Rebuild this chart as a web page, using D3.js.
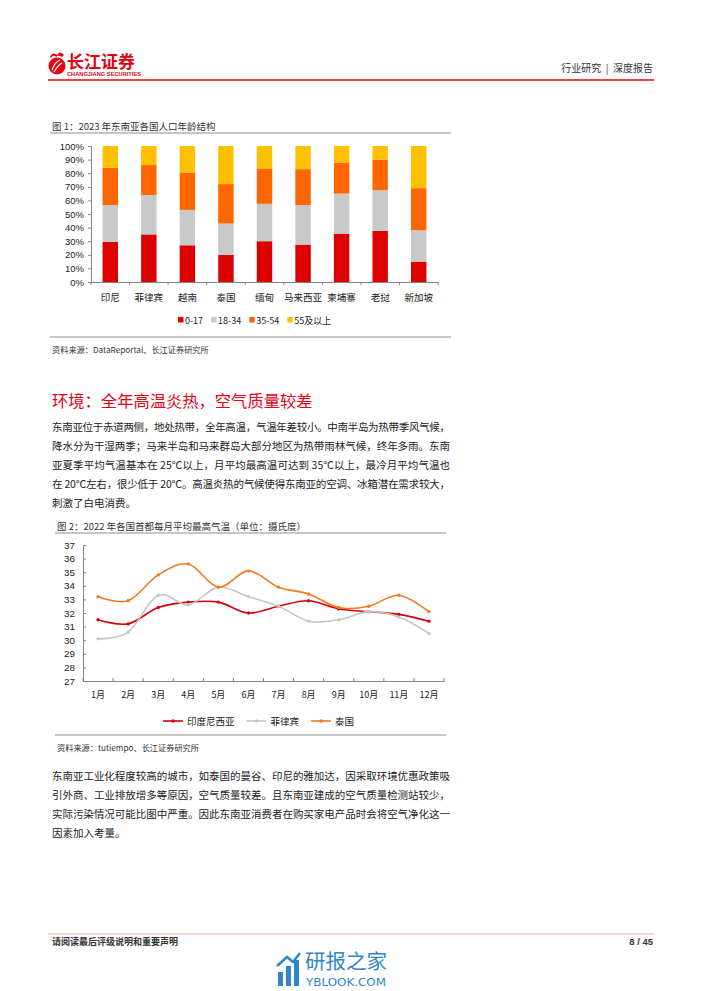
<!DOCTYPE html>
<html>
<head>
<meta charset="utf-8">
<script src="https://cdn.jsdelivr.net/npm/d3@7"></script>
<style>
body { margin: 0; background: #fff; }
svg { display: block; }
</style>
</head>
<body>
<script>
// chart 1: population age structure 2023 (%)
var countries = ["印尼", "菲律宾", "越南", "泰国", "缅甸", "马来西亚", "柬埔寨", "老挝", "新加坡"];
var ageGroups = ["0-17", "18-34", "35-54", "55及以上"];
var age0to17 = [29.5, 35, 27, 20, 30, 27.5, 35.5, 37.5, 15];
var age18to34 = [27, 29, 26, 23, 27.5, 29, 29.5, 30, 23];
var age35to54 = [27.5, 22, 27.5, 29, 26, 26.5, 22.5, 22.5, 31];
var age55plus = [16, 14, 19.5, 28, 16.5, 17, 12.5, 10, 31];
var pctTicks = [0, 10, 20, 30, 40, 50, 60, 70, 80, 90, 100];

// chart 2: average monthly max temperature of capitals 2022
var months = ["1月", "2月", "3月", "4月", "5月", "6月", "7月", "8月", "9月", "10月", "11月", "12月"];
var seriesNames = ["印度尼西亚", "菲律宾", "泰国"];
var indonesia = [31.5, 31.2, 32.4, 32.8, 32.8, 32.0, 32.5, 32.9, 32.3, 32.1, 31.9, 31.4];
var philippines = [30.1, 30.6, 33.3, 32.6, 33.9, 33.2, 32.5, 31.4, 31.5, 32.1, 31.7, 30.5];
var thailand = [33.2, 32.9, 34.8, 35.6, 33.9, 35.1, 33.9, 33.4, 32.4, 32.5, 33.3, 32.1];
var tempTicks = [27, 28, 29, 30, 31, 32, 33, 34, 35, 36, 37];

var para1 = [
  "东南亚位于赤道两侧，地处热带，全年高温，气温年差较小。中南半岛为热带季风气候，",
  "降水分为干湿两季；马来半岛和马来群岛大部分地区为热带雨林气候，终年多雨。东南",
  "亚夏季平均气温基本在 25℃以上，月平均最高温可达到 35℃以上，最冷月平均气温也",
  "在 20℃左右，很少低于 20℃。高温炎热的气候使得东南亚的空调、冰箱潜在需求较大，",
  "刺激了白电消费。"
];
var para2 = [
  "东南亚工业化程度较高的城市，如泰国的曼谷、印尼的雅加达，因采取环境优惠政策吸",
  "引外商、工业排放增多等原因，空气质量较差。且东南亚建成的空气质量检测站较少，",
  "实际污染情况可能比图中严重。因此东南亚消费者在购买家电产品时会将空气净化这一",
  "因素加入考量。"
];

var W = 702, H = 991;
var cjk = "'Noto Sans CJK SC', 'Noto Sans', sans-serif";
var latin = "'Liberation Sans', Arial, 'Noto Sans CJK SC', sans-serif";
var red = "#E60012";
var axisGray = "#868686";

var svg = d3.select("body").append("svg")
    .attr("width", W)
    .attr("height", H);

svg.append("rect").attr("width", W).attr("height", H).attr("fill", "#fff");

// ---- header ----
var logo = svg.append("g");
logo.append("circle").attr("cx", 57).attr("cy", 66).attr("r", 8.5).attr("fill", red);
logo.append("path")
    .attr("d", "M52,70 Q55,62 60,60 M54,72 Q58,65 62,63")
    .attr("stroke", "#fff").attr("stroke-width", 1.3).attr("fill", "none");
logo.append("path")
    .attr("d", "M50,57 Q53,51 57,55 Q60,50 64,55 L62,57 Q58,54 56,57 Q53,54 51,58 Z")
    .attr("fill", red);
logo.append("text")
    .attr("x", 67).attr("y", 68)
    .attr("font-family", cjk).attr("font-size", 17).attr("font-weight", "bold")
    .attr("fill", red)
    .text("长江证券");
logo.append("text")
    .attr("x", 67).attr("y", 76)
    .attr("font-family", latin).attr("font-size", 4.5).attr("font-weight", "bold")
    .attr("fill", red)
    .attr("textLength", 74).attr("lengthAdjust", "spacingAndGlyphs")
    .text("CHANGJIANG SECURITIES");

svg.append("text")
    .attr("x", 653).attr("y", 72)
    .attr("text-anchor", "end")
    .attr("font-family", cjk).attr("font-size", 10)
    .attr("fill", "#333")
    .attr("xml:space", "preserve")
    .text("行业研究  |  深度报告");

svg.append("line")
    .attr("x1", 48).attr("x2", 654).attr("y1", 80).attr("y2", 80)
    .attr("stroke", red).attr("stroke-width", 1.5);

// ---- chart helpers ----
function chartTitle(x, y, x2, txt) {
    svg.append("text")
        .attr("x", x).attr("y", y)
        .attr("font-family", cjk).attr("font-size", 9.5)
        .attr("fill", "#333")
        .text(txt);
    svg.append("line")
        .attr("x1", x - 2).attr("x2", x2).attr("y1", y + 3).attr("y2", y + 3)
        .attr("stroke", "#8c8c8c").attr("stroke-width", 1);
}
function sourceNote(x, y, x2, txt) {
    svg.append("line")
        .attr("x1", x - 2).attr("x2", x2).attr("y1", y).attr("y2", y)
        .attr("stroke", "#8c8c8c").attr("stroke-width", 1);
    svg.append("text")
        .attr("x", x).attr("y", y + 16)
        .attr("font-family", cjk).attr("font-size", 8.2)
        .attr("fill", "#333")
        .text(txt);
}

// ---- chart 1 ----
chartTitle(52, 130, 451, "图 1：2023 年东南亚各国人口年龄结构");

var x1 = d3.scaleBand()
    .domain(countries)
    .range([91, 438])
    .paddingInner(0.6)
    .paddingOuter(0.3);

var y1 = d3.scaleLinear()
    .domain([0, 100])
    .range([282, 146]);

var barColors = ["#DC0000", "#C9C9C9", "#FF6600", "#FFC000"];
var table = countries.map(function (c, i) {
    return { country: c, "0-17": age0to17[i], "18-34": age18to34[i], "35-54": age35to54[i], "55及以上": age55plus[i] };
});
var stacked = d3.stack().keys(ageGroups)(table);

var g1 = svg.append("g");
g1.selectAll("g.layer")
    .data(stacked)
    .enter()
    .append("g")
    .attr("class", "layer")
    .attr("fill", function (d, i) { return barColors[i]; })
    .selectAll("rect")
    .data(function (d) { return d; })
    .enter()
    .append("rect")
    .attr("x", function (d) { return x1(d.data.country); })
    .attr("y", function (d) { return y1(d[1]); })
    .attr("width", x1.bandwidth())
    .attr("height", function (d) { return y1(d[0]) - y1(d[1]); });

var yAxis1 = g1.append("g")
    .attr("transform", "translate(91,0)")
    .call(d3.axisLeft(y1).tickValues(pctTicks).tickSize(3).tickPadding(4)
        .tickFormat(function (d) { return d + "%"; }));
yAxis1.selectAll("text").attr("font-family", latin).attr("font-size", 9.5).attr("fill", "#222");

var xAxis1 = g1.append("g")
    .attr("transform", "translate(0,282)")
    .call(d3.axisBottom(x1).tickSize(0).tickPadding(12));
xAxis1.selectAll("text").attr("font-family", cjk).attr("font-size", 9.5).attr("fill", "#222");
xAxis1.selectAll(".bound")
    .data(d3.range(countries.length + 1))
    .enter()
    .append("line")
    .attr("class", "bound")
    .attr("x1", function (i) { return 91 + i * x1.step(); })
    .attr("x2", function (i) { return 91 + i * x1.step(); })
    .attr("y1", 0).attr("y2", 3)
    .attr("stroke", axisGray);
g1.selectAll(".domain").attr("stroke", axisGray);
g1.selectAll(".tick line").attr("stroke", axisGray);

var leg1 = svg.append("g").attr("transform", "translate(178,320)");
var lx = 0;
ageGroups.forEach(function (k, i) {
    leg1.append("rect")
        .attr("x", lx).attr("y", -3)
        .attr("width", 5.5).attr("height", 5.5)
        .attr("fill", barColors[i]);
    var t = leg1.append("text")
        .attr("x", lx + 7).attr("y", 3.5)
        .attr("font-family", cjk).attr("font-size", 9)
        .attr("fill", "#222")
        .text(k);
    lx += 7 + t.node().getComputedTextLength() + 8;
});

sourceNote(52, 337, 451, "资料来源：DataReportal、长江证券研究所");

// ---- body text ----
svg.append("text")
    .attr("x", 52).attr("y", 407)
    .attr("font-family", cjk).attr("font-size", 16.3)
    .attr("fill", red)
    .text("环境：全年高温炎热，空气质量较差");

function paragraph(lines, top) {
    svg.append("g").selectAll("text")
        .data(lines)
        .enter()
        .append("text")
        .attr("x", 52)
        .attr("y", function (d, i) { return top + i * 19 + 4; })
        .attr("font-family", cjk).attr("font-size", 10.5)
        .attr("fill", "#222")
        .each(function (d, i) {
            if (i < lines.length - 1) {
                d3.select(this).attr("textLength", 398).attr("lengthAdjust", "spacing");
            }
        })
        .text(function (d) { return d; });
}
paragraph(para1, 427);

// ---- chart 2 ----
chartTitle(57, 530, 446, "图 2：2022 年各国首都每月平均最高气温（单位：摄氏度）");

var x2 = d3.scaleBand()
    .domain(months)
    .range([83, 444]);

var y2 = d3.scaleLinear()
    .domain([27, 37])
    .range([681, 545]);

var g2 = svg.append("g");
var yAxis2 = g2.append("g")
    .attr("transform", "translate(83,0)")
    .call(d3.axisLeft(y2).tickValues(tempTicks).tickSize(-3).tickPadding(8).tickFormat(d3.format("d")));
yAxis2.selectAll("text").attr("font-family", latin).attr("font-size", 9.8).attr("fill", "#222");

var xAxis2 = g2.append("g")
    .attr("transform", "translate(0,681)")
    .call(d3.axisBottom(x2).tickSize(0).tickPadding(11));
xAxis2.selectAll("text").attr("font-family", cjk).attr("font-size", 9).attr("fill", "#222");
xAxis2.selectAll(".bound")
    .data(d3.range(months.length + 1))
    .enter()
    .append("line")
    .attr("class", "bound")
    .attr("x1", function (i) { return 83 + i * x2.step(); })
    .attr("x2", function (i) { return 83 + i * x2.step(); })
    .attr("y1", 0).attr("y2", -3)
    .attr("stroke", axisGray);
g2.selectAll(".domain").attr("stroke", axisGray);
g2.selectAll(".tick line").attr("stroke", axisGray);

var lineColors = ["#D6000F", "#C6C6C6", "#F47A1F"];
var seriesData = [indonesia, philippines, thailand];

var line = d3.line()
    .x(function (d, i) { return x2(months[i]) + x2.bandwidth() / 2; })
    .y(function (d) { return y2(d); })
    .curve(d3.curveCardinal.tension(0));

seriesData.forEach(function (vals, s) {
    g2.append("path")
        .datum(vals)
        .attr("d", line)
        .attr("fill", "none")
        .attr("stroke", lineColors[s])
        .attr("stroke-width", 1.6);
    g2.append("g").selectAll("circle")
        .data(vals)
        .enter()
        .append("circle")
        .attr("cx", function (d, i) { return x2(months[i]) + x2.bandwidth() / 2; })
        .attr("cy", function (d) { return y2(d); })
        .attr("r", 1.7)
        .attr("fill", lineColors[s]);
});

var leg2 = svg.append("g").attr("transform", "translate(163,721)");
var lx2 = 0;
seriesNames.forEach(function (name, i) {
    leg2.append("line")
        .attr("x1", lx2).attr("x2", lx2 + 20)
        .attr("y1", 0).attr("y2", 0)
        .attr("stroke", lineColors[i]).attr("stroke-width", 1.6);
    leg2.append("circle")
        .attr("cx", lx2 + 10).attr("cy", 0).attr("r", 1.7)
        .attr("fill", lineColors[i]);
    var t = leg2.append("text")
        .attr("x", lx2 + 24).attr("y", 3.5)
        .attr("font-family", cjk).attr("font-size", 9.5)
        .attr("fill", "#222")
        .text(name);
    lx2 += 24 + t.node().getComputedTextLength() + 12;
});

sourceNote(57, 735, 446, "资料来源：tutiempo、长江证券研究所");

paragraph(para2, 776);

// ---- footer ----
svg.append("line")
    .attr("x1", 48).attr("x2", 654).attr("y1", 934).attr("y2", 934)
    .attr("stroke", "#F0A8B0").attr("stroke-width", 1);
svg.append("text")
    .attr("x", 52).attr("y", 945)
    .attr("font-family", cjk).attr("font-size", 9).attr("font-weight", "bold")
    .attr("fill", "#333")
    .text("请阅读最后评级说明和重要声明");
svg.append("text")
    .attr("x", 653).attr("y", 945)
    .attr("text-anchor", "end")
    .attr("font-family", latin).attr("font-size", 9.5).attr("font-weight", "bold")
    .attr("fill", "#333")
    .text("8 / 45");

// watermark
var wm = svg.append("g").attr("fill", "#2E86C9");
wm.append("rect").attr("x", 278).attr("y", 972).attr("width", 5).attr("height", 14);
wm.append("rect").attr("x", 286).attr("y", 966).attr("width", 5).attr("height", 20);
wm.append("rect").attr("x", 294).attr("y", 960).attr("width", 5).attr("height", 26);
wm.append("path")
    .attr("d", "M277,966 L287,957 L293,962 L300,953")
    .attr("stroke", "#2E86C9").attr("stroke-width", 2.5).attr("fill", "none");
wm.append("text")
    .attr("x", 305).attr("y", 969)
    .attr("font-family", cjk).attr("font-size", 20.5)
    .text("研报之家");
wm.append("text")
    .attr("x", 306).attr("y", 986)
    .attr("font-family", "'DejaVu Sans', sans-serif").attr("font-size", 11)
    .attr("textLength", 80).attr("lengthAdjust", "spacingAndGlyphs")
    .text("YBLOOK.COM");
</script>
</body>
</html>
